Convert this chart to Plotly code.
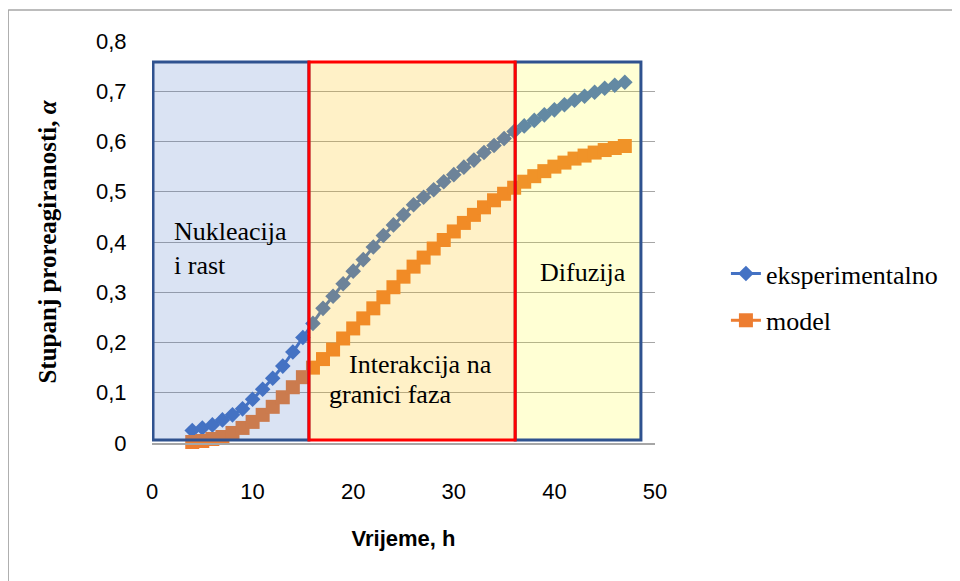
import plotly.graph_objects as go

time_h = list(range(4, 48))
eksperimentalno = [0.025, 0.030, 0.036, 0.046, 0.056, 0.068, 0.087, 0.107, 0.129, 0.153,
                   0.181, 0.210, 0.238, 0.268, 0.292, 0.317, 0.342, 0.365, 0.390, 0.413,
                   0.434, 0.454, 0.474, 0.489, 0.504, 0.520, 0.534, 0.549, 0.563, 0.578,
                   0.592, 0.606, 0.620, 0.631, 0.642, 0.653, 0.663, 0.673, 0.682, 0.690,
                   0.698, 0.706, 0.712, 0.718]
model = [0.002, 0.004, 0.008, 0.012, 0.020, 0.030, 0.042, 0.056, 0.072, 0.091,
         0.111, 0.131, 0.150, 0.167, 0.186, 0.208, 0.228, 0.248, 0.268, 0.290,
         0.310, 0.331, 0.351, 0.369, 0.387, 0.404, 0.421, 0.438, 0.454, 0.469,
         0.483, 0.496, 0.508, 0.520, 0.531, 0.541, 0.550, 0.558, 0.566, 0.572,
         0.578, 0.583, 0.587, 0.591]

x_ticks = [0, 10, 20, 30, 40, 50]
x_ticktext = ["0", "10", "20", "30", "40", "50"]
y_ticks = [0, 0.1, 0.2, 0.3, 0.4, 0.5, 0.6, 0.7, 0.8]
y_ticktext = ["0", "0,1", "0,2", "0,3", "0,4", "0,5", "0,6", "0,7", "0,8"]

# phase regions: (x0, x1, y0, y1)
region_nukleacija = (0.1, 15.6, 0.006, 0.758)
region_interakcija = (15.6, 36.1, 0.006, 0.758)
region_difuzija = (36.1, 48.6, 0.006, 0.758)

fig = go.Figure()
fig.add_trace(go.Scatter(
    x=time_h, y=eksperimentalno, name="eksperimentalno", mode="lines+markers",
    line=dict(color="#4472C4", width=3),
    marker=dict(symbol="diamond", size=12, color="#4472C4"),
    cliponaxis=False, legendgroup="a"))
fig.add_trace(go.Scatter(
    x=time_h, y=model, name="model", mode="lines+markers",
    line=dict(color="#ED7D31", width=3),
    marker=dict(symbol="square", size=14, color="#ED7D31"),
    cliponaxis=False, legendgroup="b"))

def rect(reg, fill, lc):
    x0, x1, y0, y1 = reg
    fig.add_shape(type="rect", x0=x0, x1=x1, y0=y0, y1=y1, xref="x", yref="y",
                  fillcolor=fill, line=dict(color=lc, width=3), layer="above")

rect(region_nukleacija, "rgba(68,114,196,0.2)", "#2F528F")
rect(region_difuzija, "rgba(255,255,0,0.17)", "#2F528F")
rect(region_interakcija, "rgba(255,192,0,0.22)", "#FF0000")

# outer chart border (left and top)
fig.add_shape(type="line", xref="paper", yref="paper", x0=-0.286, x1=-0.286, y0=1.077, y1=-0.36,
              line=dict(color="#A6A6A6", width=1.5))
fig.add_shape(type="line", xref="paper", yref="paper", x0=-0.286, x1=1.62, y0=1.077, y1=1.077,
              line=dict(color="#A6A6A6", width=1.5))

tfont = dict(family="Liberation Serif", size=26, color="#000000")
fig.add_annotation(x=2.0, y=0.388, xref="x", yref="y", text="Nukleacija<br>i rast",
                   showarrow=False, xanchor="left", yanchor="middle", align="left", font=tfont)
fig.add_annotation(x=19.4, y=0.157, xref="x", yref="y", text="Interakcija na",
                   showarrow=False, xanchor="left", yanchor="middle", font=tfont)
fig.add_annotation(x=17.4, y=0.096, xref="x", yref="y", text="granici faza",
                   showarrow=False, xanchor="left", yanchor="middle", font=tfont)
fig.add_annotation(x=38.4, y=0.340, xref="x", yref="y", text="Difuzija",
                   showarrow=False, xanchor="left", yanchor="middle", font=tfont)

fig.update_layout(
    width=952, height=573,
    margin=dict(l=144, r=305, t=33, b=138),
    paper_bgcolor="white", plot_bgcolor="white",
    showlegend=True,
    legend=dict(x=1.141, y=0.363, xanchor="left", yanchor="middle",
                font=dict(family="Liberation Serif", size=26, color="#000"),
                tracegroupgap=10, bgcolor="rgba(0,0,0,0)"),
    xaxis=dict(range=[0, 50], tickvals=x_ticks, ticktext=x_ticktext, showgrid=False,
               zeroline=False, showline=True, linecolor="#A6A6A6", linewidth=1.5,
               ticks="outside", ticklen=28, tickcolor="rgba(0,0,0,0)",
               tickfont=dict(family="Liberation Sans", size=22, color="#000"),
               title=dict(text="<b>Vrijeme, h</b>", standoff=27,
                          font=dict(family="Liberation Sans", size=22, color="#000"))),
    yaxis=dict(range=[0, 0.8], tickvals=y_ticks, ticktext=y_ticktext, showgrid=True,
               gridcolor="#A6A6A6", gridwidth=1, zeroline=False, showline=False,
               ticks="outside", ticklen=20, tickcolor="rgba(0,0,0,0)",
               tickfont=dict(family="Liberation Sans", size=22, color="#000"),
               title=dict(text="<b>Stupanj proreagiranosti, <i>α</i></b>", standoff=32,
                          font=dict(family="Liberation Serif", size=25, color="#000"))),
)

fig.write_html("out.html")
